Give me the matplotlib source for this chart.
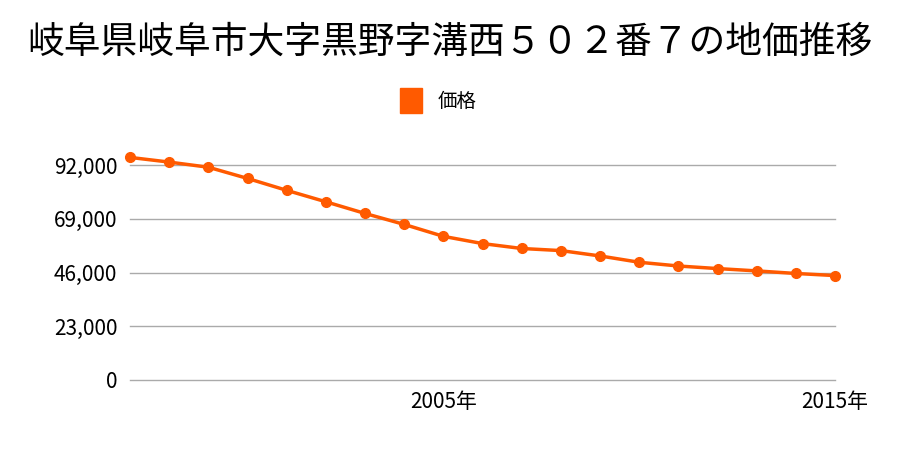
import matplotlib
matplotlib.use('Agg')
import matplotlib.pyplot as plt
from matplotlib.patches import Patch

plt.rcParams['font.family'] = ['Noto Sans CJK JP', 'DejaVu Sans']

# 年ごとの価格
years = list(range(1997, 2016))
prices = [95300, 93300, 91100, 86300, 81200, 76300, 71300, 66600, 61500, 58400,
          56300, 55400, 53100, 50400, 48800, 47700, 46700, 45600, 44700]
yticks = [0, 23000, 46000, 69000, 92000]
xticks = [2005, 2015]
xticklabels = ['2005年', '2015年']

color = '#ff5a00'

fig = plt.figure(figsize=(9, 4.5), dpi=100)
ax = fig.add_axes([0.1444, 0.1556, 0.7836, 0.519])

ax.plot(years, prices, color=color, lw=2.5, marker='o', ms=7, clip_on=False, zorder=3)

ax.set_xlim(1997, 2015)
ax.set_ylim(0, 100000)
ax.set_yticks(yticks)
ax.set_yticklabels([f'{v:,}' for v in yticks])
ax.set_xticks(xticks)
ax.set_xticklabels(xticklabels)
ax.grid(axis='y', color='#aaaaaa', lw=1)
for gl in ax.get_ygridlines():
    gl.set_clip_on(False)
ax.set_axisbelow(True)
for s in ax.spines.values():
    s.set_visible(False)
ax.tick_params(length=0, labelsize=15, pad=9)
ax.tick_params(axis='x', pad=8)

fig.text(0.5, 0.905, '岐阜県岐阜市大字黒野字溝西５０２番７の地価推移', ha='center', va='center', fontsize=26.5)
fig.legend(handles=[Patch(color=color, label='価格')], loc='center', bbox_to_anchor=(0.487, 0.776),
           frameon=False, fontsize=14, handlelength=1.15, handleheight=1.6, handletextpad=0.8)

fig.savefig('out.png', dpi=100)
